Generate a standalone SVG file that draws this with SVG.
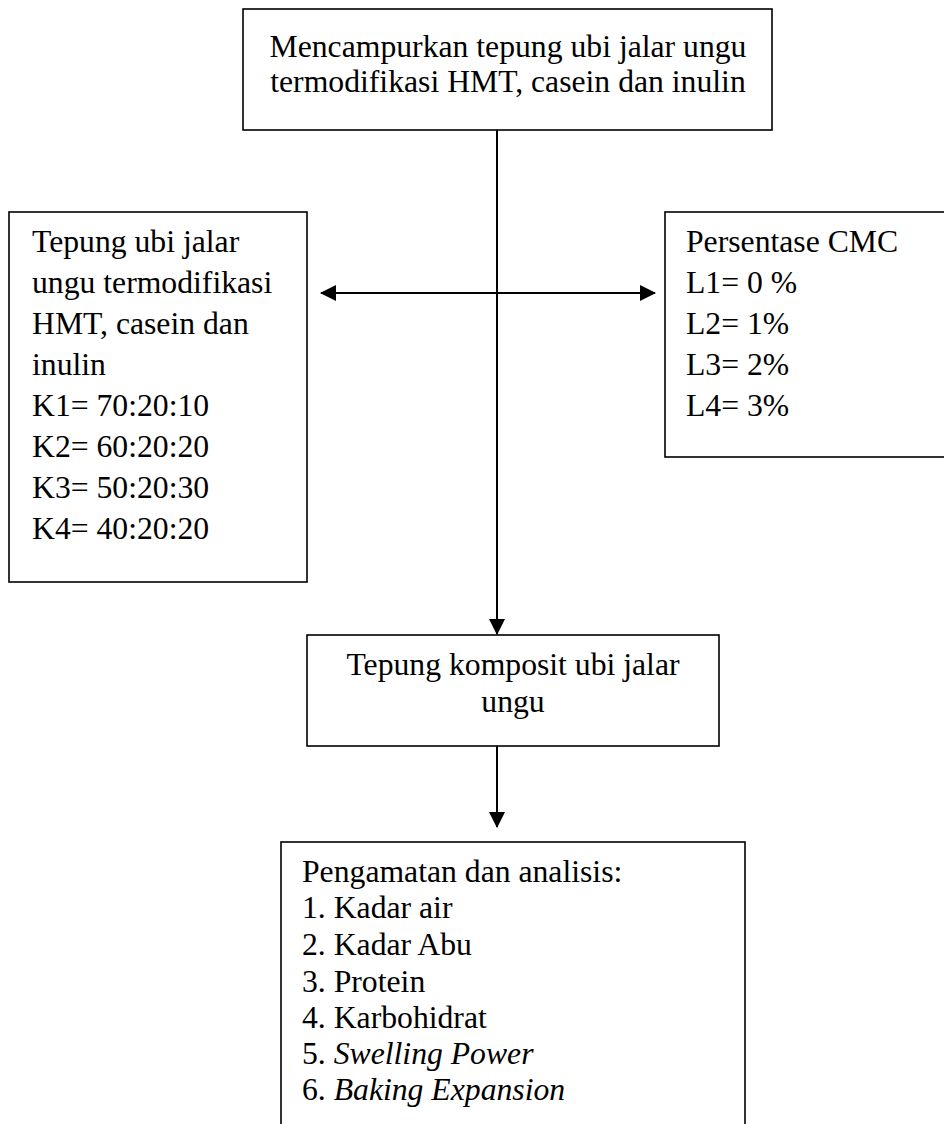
<svg xmlns="http://www.w3.org/2000/svg" width="944" height="1124" viewBox="0 0 944 1124">
<defs>
<style>
.box{fill:#fff;stroke:#000;stroke-width:1.6}
.t{font-family:"Liberation Serif","Times New Roman",serif;font-size:31.7px;fill:#000}
.c{text-anchor:middle}
.i{font-style:italic}
.ln{stroke:#000;stroke-width:2;fill:none}
</style>
<marker id="ah" viewBox="0 0 16 16" refX="15" refY="8" markerWidth="16" markerHeight="16" markerUnits="userSpaceOnUse" orient="auto-start-reverse">
<path d="M0,0 L16,8 L0,16 Z" fill="#000"/>
</marker>
</defs>
<rect width="944" height="1124" fill="#fff"/>
<g id="connectors">
<line class="ln" x1="497" y1="130" x2="497" y2="634" marker-end="url(#ah)"/>
<line class="ln" x1="321" y1="293" x2="655" y2="293" marker-start="url(#ah)" marker-end="url(#ah)"/>
<line class="ln" x1="497" y1="746" x2="497" y2="827" marker-end="url(#ah)"/>
</g>
<g id="node-top">
<rect class="box" x="243" y="9" width="529" height="121"/>
<text class="t c" x="508" y="57">Mencampurkan tepung ubi jalar ungu</text>
<text class="t c" x="508" y="92">termodifikasi HMT, casein dan inulin</text>
</g>
<g id="node-left">
<rect class="box" x="9" y="212" width="298" height="370"/>
<text class="t" x="32" y="252">Tepung ubi jalar</text>
<text class="t" x="32" y="293">ungu termodifikasi</text>
<text class="t" x="32" y="334">HMT, casein dan</text>
<text class="t" x="32" y="375">inulin</text>
<text class="t" x="32" y="416">K1= 70:20:10</text>
<text class="t" x="32" y="457">K2= 60:20:20</text>
<text class="t" x="32" y="498">K3= 50:20:30</text>
<text class="t" x="32" y="539">K4= 40:20:20</text>
</g>
<g id="node-right">
<rect class="box" x="665" y="212" width="300" height="245"/>
<text class="t" x="686" y="252">Persentase CMC</text>
<text class="t" x="686" y="293">L1= 0 %</text>
<text class="t" x="686" y="334">L2= 1%</text>
<text class="t" x="686" y="375">L3= 2%</text>
<text class="t" x="686" y="416">L4= 3%</text>
</g>
<g id="node-middle">
<rect class="box" x="307" y="635" width="412" height="111"/>
<text class="t c" x="513" y="675">Tepung komposit ubi jalar</text>
<text class="t c" x="513" y="712">ungu</text>
</g>
<g id="node-bottom">
<rect class="box" x="281" y="842" width="464" height="300"/>
<text class="t" x="302" y="882">Pengamatan dan analisis:</text>
<text class="t" x="302" y="918">1. Kadar air</text>
<text class="t" x="302" y="955">2. Kadar Abu</text>
<text class="t" x="302" y="992">3. Protein</text>
<text class="t" x="302" y="1028">4. Karbohidrat</text>
<text class="t" x="302" y="1064">5. <tspan class="i">Swelling Power</tspan></text>
<text class="t" x="302" y="1100">6. <tspan class="i">Baking Expansion</tspan></text>
</g>
</svg>
